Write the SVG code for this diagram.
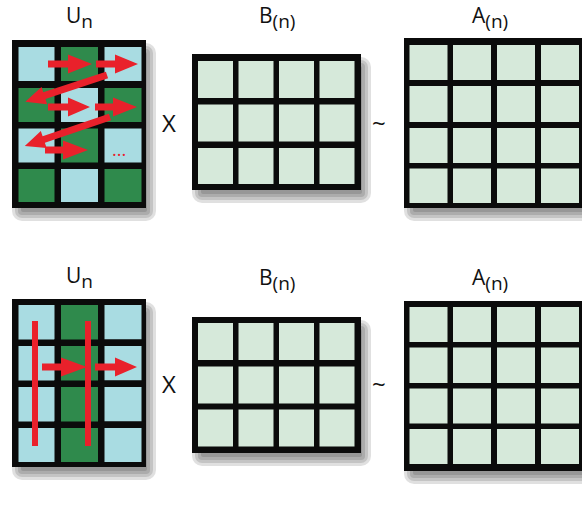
<svg xmlns="http://www.w3.org/2000/svg" width="582" height="507" viewBox="0 0 582 507">
<style>
.frame{fill:#0b0b0b}
.lb{fill:#a9dce2}
.dg{fill:#2f8a4c}
.lg{fill:#d6e9da}
.red{fill:#e9212b}
.sh rect{fill:#000;fill-opacity:0.12}
.lbl{font-family:"Open Sans","Liberation Sans",sans-serif;fill:#111}
.big{font-size:21px}
.sub{font-size:19px}
.op{font-family:"Open Sans","Liberation Sans",sans-serif;fill:#111;font-size:24px}
</style>
<rect width="582" height="507" fill="#ffffff"/>

<!-- Top U_n -->
<g id="U_top">
<g class="sh">
<rect x="12" y="43" width="144" height="178" rx="10"/>
<rect x="15" y="46" width="138" height="172" rx="7"/>
<rect x="18" y="49" width="132" height="166" rx="4"/>
<rect x="21" y="52" width="126" height="160" rx="2"/>
</g>
<rect class="frame" x="12" y="40" width="134" height="168"/>
<rect class="lb" x="18.5" y="47" width="36" height="34"/>
<rect class="dg" x="61" y="47" width="37" height="34"/>
<rect class="lb" x="104.5" y="47" width="37" height="34"/>
<rect class="dg" x="18.5" y="88" width="36" height="34"/>
<rect class="lb" x="61" y="88" width="37" height="34"/>
<rect class="dg" x="104.5" y="88" width="37" height="34"/>
<rect class="lb" x="18.5" y="128.5" width="36" height="34"/>
<rect class="dg" x="61" y="128.5" width="37" height="34"/>
<rect class="lb" x="104.5" y="128.5" width="37" height="34"/>
<rect class="dg" x="18.5" y="169" width="36" height="33"/>
<rect class="lb" x="61" y="169" width="37" height="33"/>
<rect class="dg" x="104.5" y="169" width="37" height="33"/>
<text class="lbl big" x="66" y="23">U<tspan class="sub" dy="5">n</tspan></text>
</g>

<!-- Top B -->
<g id="B_top">
<g class="sh">
<rect x="192" y="57" width="179" height="146" rx="10"/>
<rect x="195" y="60" width="173" height="140" rx="7"/>
<rect x="198" y="63" width="167" height="134" rx="4"/>
<rect x="201" y="66" width="161" height="128" rx="2"/>
</g>
<rect class="frame" x="192" y="54" width="169" height="136"/>
<rect class="lg" x="198" y="61" width="35" height="37"/>
<rect class="lg" x="238.5" y="61" width="35" height="37"/>
<rect class="lg" x="279" y="61" width="35" height="37"/>
<rect class="lg" x="319.5" y="61" width="35" height="37"/>
<rect class="lg" x="198" y="104.5" width="35" height="37"/>
<rect class="lg" x="238.5" y="104.5" width="35" height="37"/>
<rect class="lg" x="279" y="104.5" width="35" height="37"/>
<rect class="lg" x="319.5" y="104.5" width="35" height="37"/>
<rect class="lg" x="198" y="148" width="35" height="36"/>
<rect class="lg" x="238.5" y="148" width="35" height="36"/>
<rect class="lg" x="279" y="148" width="35" height="36"/>
<rect class="lg" x="319.5" y="148" width="35" height="36"/>
<text class="lbl big" x="259" y="23">B<tspan class="sub" dy="5">(n)</tspan></text>
</g>

<!-- Top A -->
<g id="A_top">
<g class="sh">
<rect x="404" y="41" width="190" height="180" rx="10"/>
<rect x="407" y="44" width="184" height="174" rx="7"/>
<rect x="410" y="47" width="178" height="168" rx="4"/>
<rect x="413" y="50" width="172" height="162" rx="2"/>
</g>
<rect class="frame" x="404" y="38" width="180" height="170"/>
<rect class="lg" x="409.5" y="45" width="38" height="35"/>
<rect class="lg" x="453" y="45" width="38" height="35"/>
<rect class="lg" x="497" y="45" width="38" height="35"/>
<rect class="lg" x="541" y="45" width="38" height="35"/>
<rect class="lg" x="409.5" y="86" width="38" height="36"/>
<rect class="lg" x="453" y="86" width="38" height="36"/>
<rect class="lg" x="497" y="86" width="38" height="36"/>
<rect class="lg" x="541" y="86" width="38" height="36"/>
<rect class="lg" x="409.5" y="128" width="38" height="35"/>
<rect class="lg" x="453" y="128" width="38" height="35"/>
<rect class="lg" x="497" y="128" width="38" height="35"/>
<rect class="lg" x="541" y="128" width="38" height="35"/>
<rect class="lg" x="409.5" y="168.5" width="38" height="34.5"/>
<rect class="lg" x="453" y="168.5" width="38" height="34.5"/>
<rect class="lg" x="497" y="168.5" width="38" height="34.5"/>
<rect class="lg" x="541" y="168.5" width="38" height="34.5"/>
<text class="lbl big" x="472" y="23">A<tspan class="sub" dy="5">(n)</tspan></text>
</g>

<text class="op" x="162" y="132">X</text>
<text class="op" x="372" y="132">~</text>

<!-- Bottom U_n -->
<g id="U_bottom">
<g class="sh">
<rect x="12" y="302" width="144" height="178" rx="10"/>
<rect x="15" y="305" width="138" height="172" rx="7"/>
<rect x="18" y="308" width="132" height="166" rx="4"/>
<rect x="21" y="311" width="126" height="160" rx="2"/>
</g>
<rect class="frame" x="12" y="299" width="134" height="168"/>
<rect class="lb" x="18.5" y="305" width="36" height="34.5"/>
<rect class="dg" x="61" y="305" width="37" height="157"/>
<rect class="lb" x="104.5" y="305" width="37" height="34.5"/>
<rect class="lb" x="18.5" y="346" width="36" height="34.5"/>
<rect class="lb" x="104.5" y="346" width="37" height="34.5"/>
<rect class="lb" x="18.5" y="387" width="36" height="34.5"/>
<rect class="lb" x="104.5" y="387" width="37" height="34.5"/>
<rect class="lb" x="18.5" y="428" width="36" height="34"/>
<rect class="lb" x="104.5" y="428" width="37" height="34"/>
<rect fill="#0b0b0b" x="54" y="339.5" width="92" height="6.5"/>
<rect fill="#0b0b0b" x="54" y="380.5" width="92" height="6.5"/>
<rect fill="#0b0b0b" x="54" y="421.5" width="92" height="6.5"/>
<text class="lbl big" x="66" y="283">U<tspan class="sub" dy="5">n</tspan></text>
</g>

<!-- Bottom B -->
<g id="B_bottom">
<g class="sh">
<rect x="192" y="320" width="179" height="146" rx="10"/>
<rect x="195" y="323" width="173" height="140" rx="7"/>
<rect x="198" y="326" width="167" height="134" rx="4"/>
<rect x="201" y="329" width="161" height="128" rx="2"/>
</g>
<rect class="frame" x="192" y="317" width="169" height="136"/>
<rect class="lg" x="198" y="323" width="35" height="37"/>
<rect class="lg" x="238.5" y="323" width="35" height="37"/>
<rect class="lg" x="279" y="323" width="35" height="37"/>
<rect class="lg" x="319.5" y="323" width="35" height="37"/>
<rect class="lg" x="198" y="366.5" width="35" height="37"/>
<rect class="lg" x="238.5" y="366.5" width="35" height="37"/>
<rect class="lg" x="279" y="366.5" width="35" height="37"/>
<rect class="lg" x="319.5" y="366.5" width="35" height="37"/>
<rect class="lg" x="198" y="409.5" width="35" height="37"/>
<rect class="lg" x="238.5" y="409.5" width="35" height="37"/>
<rect class="lg" x="279" y="409.5" width="35" height="37"/>
<rect class="lg" x="319.5" y="409.5" width="35" height="37"/>
<text class="lbl big" x="259" y="285">B<tspan class="sub" dy="5">(n)</tspan></text>
</g>

<!-- Bottom A -->
<g id="A_bottom">
<g class="sh">
<rect x="404" y="304" width="190" height="180" rx="10"/>
<rect x="407" y="307" width="184" height="174" rx="7"/>
<rect x="410" y="310" width="178" height="168" rx="4"/>
<rect x="413" y="313" width="172" height="162" rx="2"/>
</g>
<rect class="frame" x="404" y="301" width="180" height="170"/>
<rect class="lg" x="409.5" y="307" width="38" height="35"/>
<rect class="lg" x="453" y="307" width="38" height="35"/>
<rect class="lg" x="497" y="307" width="38" height="35"/>
<rect class="lg" x="541" y="307" width="38" height="35"/>
<rect class="lg" x="409.5" y="347.5" width="38" height="35.5"/>
<rect class="lg" x="453" y="347.5" width="38" height="35.5"/>
<rect class="lg" x="497" y="347.5" width="38" height="35.5"/>
<rect class="lg" x="541" y="347.5" width="38" height="35.5"/>
<rect class="lg" x="409.5" y="388.5" width="38" height="35"/>
<rect class="lg" x="453" y="388.5" width="38" height="35"/>
<rect class="lg" x="497" y="388.5" width="38" height="35"/>
<rect class="lg" x="541" y="388.5" width="38" height="35"/>
<rect class="lg" x="409.5" y="429" width="38" height="35"/>
<rect class="lg" x="453" y="429" width="38" height="35"/>
<rect class="lg" x="497" y="429" width="38" height="35"/>
<rect class="lg" x="541" y="429" width="38" height="35"/>
<text class="lbl big" x="472" y="285">A<tspan class="sub" dy="5">(n)</tspan></text>
</g>

<text class="op" x="162" y="393">X</text>
<text class="op" x="372" y="393">~</text>

<!-- Red traversal arrows -->
<g id="connectors">
<polygon class="red" points="48,60.5 68,60.5 68,54.5 92,64 68,73.5 68,67.5 48,67.5"/>
<polygon class="red" points="96,60.5 115,60.5 115,54.5 138,64 115,73.5 115,67.5 96,67.5"/>
<polygon class="red" transform="translate(107,75) rotate(161.8)" points="0,-3.5 66,-3.5 66,-9 86,0 66,9 66,3.5 0,3.5"/>
<polygon class="red" points="48,103.5 68,103.5 68,97.5 90,107 68,116.5 68,110.5 48,110.5"/>
<polygon class="red" points="95,103.5 113,103.5 113,97.5 137,107 113,116.5 113,110.5 95,110.5"/>
<polygon class="red" transform="translate(110,117) rotate(161.2)" points="0,-3.5 70,-3.5 70,-9 90,0 70,9 70,3.5 0,3.5"/>
<polygon class="red" points="45,146.5 63,146.5 63,140.5 88,150 63,159.5 63,153.5 45,153.5"/>
<text x="112" y="156" font-family="Open Sans, Liberation Sans, sans-serif" font-size="18" fill="#e9212b">...</text>

<rect class="red" x="32" y="321" width="6" height="125"/>
<rect class="red" x="85" y="321" width="6" height="125"/>
<polygon class="red" points="42,363.5 61,363.5 61,357.5 87,367 61,376.5 61,370.5 42,370.5"/>
<polygon class="red" points="95,363.5 115,363.5 115,357.5 137,367 115,376.5 115,370.5 95,370.5"/>
</g>
</svg>
